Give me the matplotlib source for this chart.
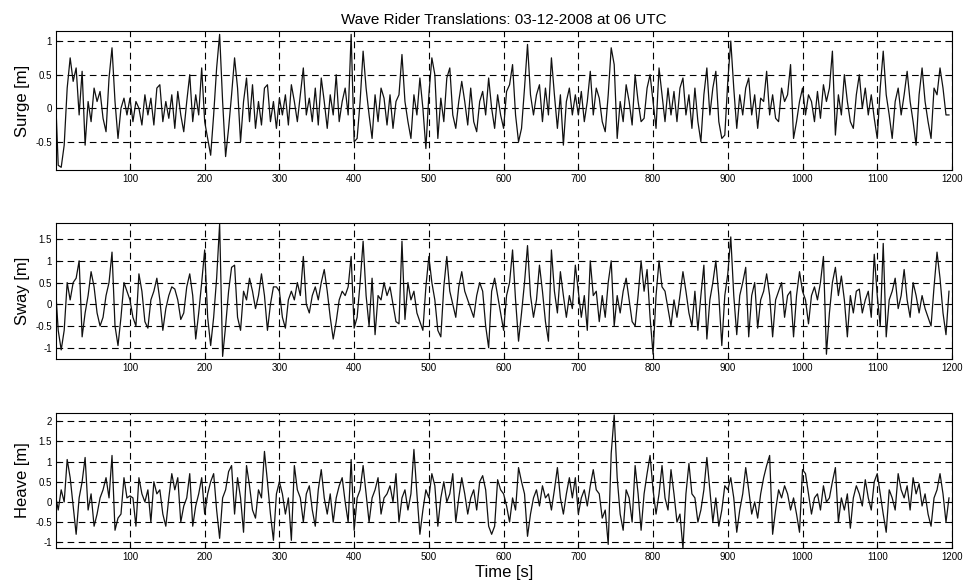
import numpy as np
import matplotlib
matplotlib.use("Agg")
import matplotlib.pyplot as plt

plt.rcParams['font.family'] = ['Liberation Sans', 'DejaVu Sans']

# sample spacing of the read-off points (s)
time_step = 4

surge = [
    0.3, -0.85, -0.88, -0.55, 0.3, 0.75, 0.4, 0.6, -0.1, 0.55, -0.55, 0.1, -0.2, 0.3, 0.1, 0.25, -0.15, -0.35, 0.45, 0.9, 0.1, -0.45, 0.0, 0.15, -0.1,
    0.15, -0.2, 0.1, 0.0, -0.25, 0.2, -0.1, 0.15, -0.25, 0.3, 0.35, -0.2, 0.1, -0.15, 0.2, -0.3, 0.25, -0.1, -0.35, 0.1, 0.5, -0.2, 0.2, -0.1, 0.6,
    -0.2, -0.45, -0.7, -0.1, 0.6, 1.1, 0.1, -0.72, -0.3, 0.2, 0.75, 0.3, -0.5, 0.1, 0.45, -0.2, 0.35, -0.3, 0.1, -0.25, 0.3, 0.35, -0.2, 0.1, -0.3,
    0.15, -0.1, 0.2, -0.25, 0.35, 0.1, -0.2, 0.2, 0.6, -0.1, 0.15, -0.2, 0.3, -0.25, 0.45, 0.1, -0.3, 0.2, -0.1, 0.5, -0.2, 0.1, 0.3, -0.1, 1.1,
    -0.5, -0.45, 0.1, 0.85, 0.3, -0.1, -0.45, 0.2, -0.2, 0.3, 0.15, -0.25, 0.2, -0.3, 0.1, 0.2, 0.8, 0.1, -0.2, -0.45, 0.2, -0.1, 0.45, 0.0, -0.6,
    0.2, 0.75, 0.5, -0.45, 0.15, -0.2, 0.45, 0.6, -0.1, -0.3, 0.1, 0.4, 0.1, -0.25, 0.3, -0.2, -0.35, 0.1, 0.25, -0.1, 0.45, 0.0, -0.3, 0.2, -0.1,
    -0.3, 0.25, 0.35, 0.65, -0.1, -0.5, -0.3, 0.3, 0.95, 0.2, -0.1, 0.2, 0.35, -0.2, 0.3, -0.1, 0.75, 0.2, -0.3, 0.2, -0.55, 0.1, 0.3, -0.1, 0.2,
    -0.1, 0.25, -0.2, 0.1, 0.55, -0.1, 0.3, 0.15, -0.2, -0.35, 0.2, 0.9, 0.65, -0.45, 0.1, -0.2, 0.35, 0.1, -0.25, 0.5, 0.1, -0.2, -0.15, 0.3, 0.5,
    0.1, -0.3, 0.6, 0.2, -0.2, 0.3, -0.1, 0.25, -0.2, 0.3, 0.45, -0.1, 0.2, -0.3, 0.3, -0.2, -0.5, 0.2, 0.6, -0.1, 0.3, 0.55, -0.2, -0.45, -0.4,
    0.4, 1.0, 0.3, -0.3, 0.2, -0.1, 0.3, 0.45, -0.1, 0.2, -0.3, 0.15, 0.1, 0.55, -0.1, 0.2, -0.15, -0.2, 0.3, 0.1, 0.2, 0.65, -0.45, -0.2, 0.1,
    0.3, -0.1, 0.2, 0.1, -0.2, 0.25, -0.15, 0.35, 0.1, 0.3, 0.85, -0.4, 0.2, -0.1, 0.5, 0.1, -0.2, -0.3, 0.2, 0.5, 0.0, 0.3, -0.1, 0.2, -0.15,
    -0.45, 0.3, 0.85, 0.2, -0.1, -0.45, 0.1, 0.3, -0.1, 0.2, 0.55, 0.1, -0.2, -0.55, 0.2, 0.6, 0.1, -0.2, -0.45, 0.3, 0.2, 0.6, 0.3, -0.1, -0.1,
]

sway = [
    0.5, -0.6, -1.05, -0.6, 0.5, 0.1, 0.5, 0.6, 1.0, -0.75, -0.2, 0.2, 0.75, 0.4, -0.2, -0.5, -0.3, 0.2, 0.5, 1.2, -0.5, -0.95, -0.3, 0.5, 0.3,
    0.1, -0.3, -0.5, 0.7, 0.3, -0.4, -0.55, 0.1, 0.3, 0.6, 0.1, -0.6, -0.1, 0.2, 0.4, 0.35, 0.1, -0.35, -0.2, 0.4, 0.7, 0.2, -0.8, -0.2, 0.5,
    1.25, -0.3, -0.95, -0.3, 0.6, 1.85, -1.2, -0.5, 0.3, 0.85, 0.9, -0.3, -0.6, 0.3, 0.1, 0.6, 0.3, -0.1, 0.2, 0.7, 0.2, -0.6, 0.0, 0.4, 0.4,
    0.3, -0.3, -0.55, 0.1, 0.3, 0.1, 0.5, 0.2, 1.1, 0.0, -0.2, 0.2, 0.4, 0.1, 0.5, 0.8, 0.3, -0.3, -0.8, -0.4, 0.1, 0.3, 0.2, 0.4, 1.1,
    -0.55, -0.3, 0.5, 1.45, 0.2, -0.5, 0.6, -0.7, 0.2, 0.1, 0.5, 0.2, 0.4, 0.0, -0.4, -0.45, 1.45, -0.35, 0.5, 0.1, 0.3, -0.2, -0.4, -0.6, 0.4,
    1.1, 0.5, 0.1, -0.6, -0.75, 0.4, 1.1, 0.3, 0.0, -0.3, 0.4, 0.75, 0.3, 0.1, -0.1, -0.3, 0.2, 0.5, 0.3, -0.5, -1.0, 0.3, 0.6, 0.2, -0.2,
    -0.6, 0.2, 0.5, 1.25, 0.1, -0.85, -0.2, 0.5, 1.35, 0.2, -0.3, 0.1, 0.9, 0.3, -0.4, -0.85, 1.25, 0.3, -0.2, 0.75, 0.2, -0.3, 0.2, -0.1, 0.9,
    0.3, -0.3, 0.2, -0.6, 1.0, 0.2, 0.3, -0.4, 0.2, -0.3, 0.5, 1.0, -0.5, 0.2, -0.2, 0.3, 0.6, 0.1, -0.4, -0.5, 0.2, 1.0, 0.3, 0.8, -0.3,
    -1.15, 0.2, 1.0, 0.4, 0.3, -0.1, -0.5, 0.1, -0.3, 0.2, 0.75, 0.3, -0.2, -0.5, 0.3, -0.6, 0.2, 0.9, -0.8, 0.1, 0.5, 1.0, 0.2, -0.95, 0.2,
    0.7, 1.55, 0.2, -0.7, 0.2, 0.5, 0.85, -0.75, 0.2, 0.5, -0.55, 0.1, 0.3, 0.7, 0.2, -0.75, 0.1, 0.3, 0.5, -0.3, 0.2, 0.3, -0.75, 0.2, 0.75,
    0.3, 0.1, -0.45, 0.2, 0.4, 0.1, 0.5, 1.1, -1.15, -0.2, 0.5, 0.85, 0.2, 0.65, 0.1, -0.75, 0.2, -0.2, 0.3, 0.35, -0.2, 0.1, 0.3, -0.3, 1.15,
    0.2, -0.5, 1.4, -0.75, 0.1, 0.3, 0.6, -0.1, 0.2, 0.8, 0.1, -0.3, 0.5, 0.2, -0.2, 0.2, -0.1, -0.3, -0.5, 0.4, 1.2, 0.6, -0.2, -0.7, 0.3,
]

heave = [
    0.2, -0.2, 0.3, 0.0, 1.05, 0.6, -0.1, -0.8, 0.1, 0.5, 1.1, -0.2, 0.2, -0.6, -0.3, 0.1, 0.3, 0.6, 0.1, 1.15, -0.7, -0.4, -0.3, 0.6, 0.1,
    0.15, 0.1, -0.6, 0.6, 0.2, 0.0, 0.3, -0.5, 0.5, 0.2, 0.3, -0.3, -0.6, 0.1, 0.7, 0.3, 0.6, -0.5, -0.1, 0.1, 0.7, -0.6, -0.1, 0.2, 0.6,
    -0.3, 0.2, 0.5, 0.7, -0.2, -0.9, 0.1, 0.3, 0.75, 0.9, -0.3, 0.6, 0.1, -0.75, 0.9, 0.4, -0.2, -0.4, 0.3, 0.1, 1.25, 0.5, -0.3, -0.95, 0.2,
    0.5, 0.2, -0.3, 0.1, -0.95, 0.9, 0.3, 0.1, -0.5, 0.2, 0.4, -0.2, -0.6, 0.3, 0.8, 0.1, -0.3, 0.2, -0.5, 0.1, 0.4, 0.6, 0.0, -0.5, 1.05,
    -0.7, 0.1, 0.3, 0.9, 0.2, -0.5, 0.1, 0.3, 0.6, -0.3, 0.1, 0.2, 0.4, 0.0, 0.7, -0.5, 0.1, 0.3, -0.2, 0.2, 1.3, 0.2, -0.8, -0.2, 0.3,
    0.1, 0.7, 0.4, -0.6, 0.1, 0.5, 0.0, 0.2, 0.7, -0.5, 0.1, 0.6, 0.2, -0.3, 0.1, 0.3, -0.2, 0.5, 0.65, 0.3, -0.6, -0.8, -0.6, 0.55, 0.3,
    0.2, -0.1, -0.5, 0.1, -0.2, 0.85, 0.5, 0.2, -0.85, -0.3, 0.1, 0.3, -0.1, 0.4, 0.1, 0.2, -0.2, 0.3, 0.85, 0.1, -0.3, 0.2, 0.6, 0.1, 0.6,
    -0.3, 0.1, 0.3, -0.1, 0.4, 0.8, 0.3, 0.2, -0.4, -0.2, -1.05, 1.2, 2.15, 0.6, -0.3, -0.7, 0.3, 0.1, -0.5, 0.9, 0.2, -0.7, 0.2, 0.7, 1.15,
    0.3, -0.3, 0.2, 0.9, 0.1, -0.2, 0.8, 0.2, -0.5, -0.3, -1.15, 0.2, 0.95, 0.2, 0.1, -0.5, -0.2, 0.3, 1.1, 0.3, -0.5, 0.1, -0.6, -0.2, 0.4,
    0.3, 0.6, 0.1, -0.75, -0.2, 0.2, 0.85, 0.3, -0.3, 0.0, -0.4, 0.2, 0.6, 0.9, 1.15, -0.8, -0.2, 0.3, 0.1, 0.4, 0.2, -0.2, 0.1, -0.3, -0.75,
    0.8, 0.7, 0.2, -0.3, 0.1, 0.2, -0.2, 0.4, 0.0, 0.1, 0.5, 0.85, -0.5, 0.1, -0.2, 0.2, -0.65, 0.1, 0.4, 0.2, -0.1, 0.55, 0.1, -0.2, 0.5,
    0.7, 0.2, -0.3, -0.75, 0.3, 0.1, -0.2, 0.7, 0.3, 0.1, 0.4, -0.2, 0.6, 0.2, 0.45, -0.1, 0.2, -0.3, -0.6, 0.1, 0.3, 0.7, 0.2, -0.5, 0.1,
]

time = np.arange(len(surge)) * time_step

panels = [
    ("Surge [m]", surge, (-0.92, 1.15), [-0.5, 0, 0.5, 1]),
    ("Sway [m]", sway, (-1.26, 1.87), [-1, -0.5, 0, 0.5, 1, 1.5]),
    ("Heave [m]", heave, (-1.14, 2.2), [-1, -0.5, 0, 0.5, 1, 1.5, 2]),
]
xticks = [100, 200, 300, 400, 500, 600, 700, 800, 900, 1000, 1100, 1200]

fig = plt.figure(figsize=(9.65, 5.85), dpi=100)
rects = [
    [0.058, 0.7094, 0.9285, 0.2376],
    [0.058, 0.3863, 0.9285, 0.2325],
    [0.058, 0.0632, 0.9285, 0.2308],
]

axes = []
for rect, (label, vals, ylim, yticks) in zip(rects, panels):
    ax = fig.add_axes(rect)
    ax.plot(time, vals, color='#111111', linewidth=0.9)
    ax.set_xlim(1, 1200)
    ax.set_ylim(*ylim)
    ax.set_xticks(xticks)
    ax.set_yticks(yticks)
    ax.set_yticklabels([f"{v:g}" for v in yticks])
    ax.grid(True, color='black', linestyle=(0, (6, 4)), linewidth=0.8)
    ax.tick_params(direction='in', labelsize=7, length=3, pad=3)
    ax.set_ylabel(label, fontsize=12, labelpad=4)
    for s in ax.spines.values():
        s.set_linewidth(0.8)
    axes.append(ax)

axes[0].set_title("Wave Rider Translations: 03-12-2008 at 06 UTC", fontsize=11, pad=5)
axes[2].set_xlabel("Time [s]", fontsize=12, labelpad=2)

fig.savefig("out.png", dpi=100)
